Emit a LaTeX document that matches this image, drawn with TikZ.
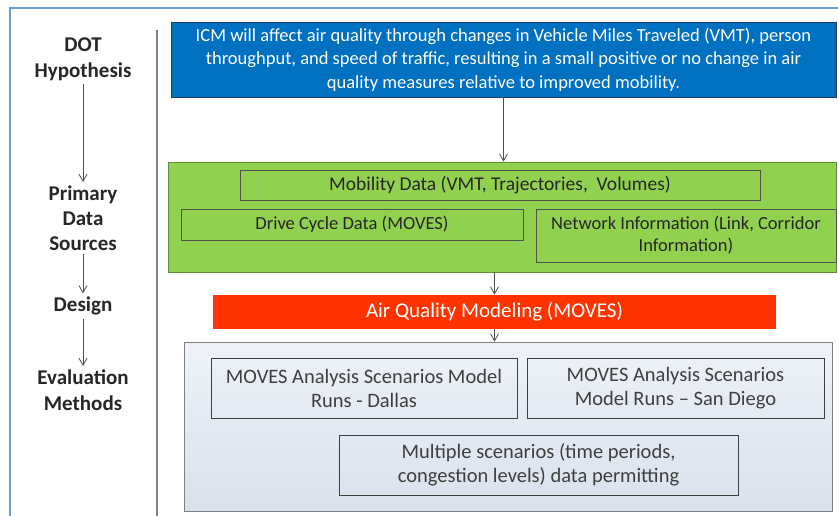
\documentclass[tikz,border=0pt]{standalone}
\usepackage{fontspec}
\setmainfont{Carlito}
\usetikzlibrary{arrows.meta,positioning,calc}
\definecolor{frame}{HTML}{6F9BD3}
\definecolor{sep}{HTML}{808080}
\definecolor{hypblue}{HTML}{0070C0}
\definecolor{hypedge}{HTML}{1F3F6A}
\definecolor{datagreen}{HTML}{92D050}
\definecolor{dataedge}{HTML}{5F8F35}
\definecolor{aqred}{HTML}{FF3300}
\definecolor{evaltop}{HTML}{EEF2F8}
\definecolor{evalbot}{HTML}{D9E1EC}
\definecolor{evaledge}{HTML}{808080}
\definecolor{ink}{HTML}{262626}
\definecolor{graytext}{HTML}{3F3F3F}
\tikzset{
  stage/.style={font=\fontsize{21}{26}\selectfont\bfseries,text=ink,align=center},
  panel/.style={line width=.8pt,inner sep=0pt,align=center},
  inbox/.style={draw=ink!80,line width=.8pt,inner sep=0pt,align=center},
  evbox/.style={draw=graytext,line width=.9pt,inner sep=0pt,align=center,
    font=\fontsize{20.5}{24}\selectfont,text=graytext},
  arrow/.style={-{Straight Barb[length=7pt,width=8pt]},line width=.8pt,draw=ink!80}
}

\begin{document}
\begin{tikzpicture}[x=1pt,y=-1pt]
  \useasboundingbox (0,0) rectangle (838,516);
  \draw[frame,line width=1.2pt] (10,516) -- (10,8) -- (838,8);
  \draw[sep,line width=1.2pt] (157,30) -- (157,516);

  % stage labels
  \node[stage] (hyplbl) at (83,59) {DOT\\Hypothesis};
  \node[stage,font=\fontsize{21}{25}\selectfont\bfseries] (srclbl) at (83,218) {Primary\\Data\\Sources};
  \node[stage] (deslbl) at (83,306) {Design};
  \node[stage] (evallbl) at (83,390) {Evaluation\\Methods};
  \draw[arrow] (hyplbl.south) -- (srclbl.north);
  \draw[arrow] (srclbl.south) -- (deslbl.north);
  \draw[arrow] (deslbl.south) -- (evallbl.north);

  % hypothesis
  \node[panel,draw=hypedge,fill=hypblue,text=white,minimum width=665pt,minimum height=75pt,
    font=\fontsize{18.5}{23.5}\selectfont] (hyp) at (503.5,59.5)
    {ICM will affect air quality through changes in Vehicle Miles Traveled (VMT), person\\
     throughput, and speed of traffic, resulting in a small positive or no change in air\\
     quality measures relative to improved mobility.};

  % data sources
  \node[panel,draw=dataedge,fill=datagreen,minimum width=668pt,minimum height=110pt] (data) at (502,217) {};
  \node[inbox,minimum width=520pt,minimum height=30pt,font=\fontsize{19.5}{22}\selectfont,text=ink]
    (mob) at (500,185) {Mobility Data (VMT, Trajectories,\ \ Volumes)};
  \node[inbox,minimum width=342pt,minimum height=31pt,font=\fontsize{18.5}{22}\selectfont,text=ink]
    (drive) at (352,224.5) {Drive Cycle Data (MOVES)};
  \node[inbox,minimum width=300pt,minimum height=53pt,font=\fontsize{18.5}{22}\selectfont,text=ink]
    (net) at (686,235.5) {Network Information (Link, Corridor\\Information)};

  % design
  \node[panel,fill=aqred,text=white,minimum width=563pt,minimum height=34pt,
    font=\fontsize{21}{24}\selectfont] (aqm) at (494.5,312) {Air Quality Modeling (MOVES)};

  % evaluation
  \node[panel,draw=evaledge,top color=evaltop,bottom color=evalbot,minimum width=648pt,
    minimum height=169pt] (eval) at (508,426.5) {};
  \node[evbox,minimum width=306pt,minimum height=60pt] (dal) at (364,388)
    {MOVES Analysis Scenarios Model\\Runs - Dallas};
  \node[evbox,minimum width=297pt,minimum height=60pt] (sd) at (675.5,388)
    {MOVES Analysis Scenarios\\Model Runs -- San Diego};
  \node[evbox,minimum width=399pt,minimum height=60pt] (multi) at (538.5,465)
    {Multiple scenarios (time periods,\\congestion levels) data permitting};

  \draw[arrow] (hyp.south) -- (hyp.south |- data.north);
  \draw[arrow] (aqm.north |- data.south) -- (aqm.north);
  \draw[arrow] (aqm.south) -- (aqm.south |- eval.north);
\end{tikzpicture}
\end{document}
